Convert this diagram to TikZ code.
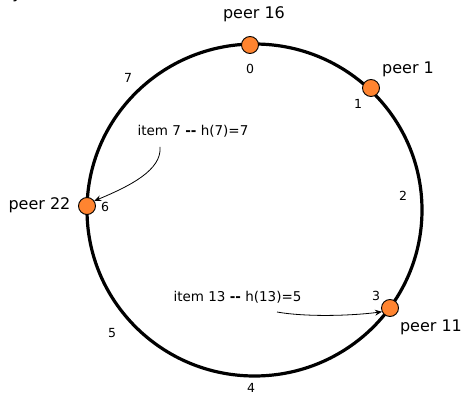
\documentclass[tikz,border=0pt]{standalone}
\usepackage{fontspec}
\setmainfont{DejaVu Sans}
\usetikzlibrary{arrows.meta}
\definecolor{peerorange}{RGB}{255,132,48}
\tikzset{
  peer/.style={circle, draw=black, line width=0.9pt, fill=peerorange, minimum size=17pt, inner sep=0pt},
  peerlabel/.style={font=\fontsize{16}{18}\selectfont, inner sep=0pt},
  poslabel/.style={font=\fontsize{12.5}{14}\selectfont, inner sep=0pt},
  itemlabel/.style={font=\fontsize{13.5}{16}\selectfont, inner sep=0pt},
  ring/.style={line width=3.2pt},
  arr/.style={line width=0.8pt, -{Stealth[length=7pt, width=6pt, inset=2.5pt]}}
}
\begin{document}
\begin{tikzpicture}[x=1pt, y=-1pt]
\useasboundingbox (0,0) rectangle (465,395);
% cut-off text fragment at the top left
\begin{scope}
\clip (0,0) rectangle (465,395);
\node[peerlabel, anchor=base] (frag) at (17,-1) {y};
\end{scope}
% ring
\draw[ring] (254.5,210) ellipse [x radius=167.5pt, y radius=166pt];
% peers
\node[peer] (p16) at (250,45) {};
\node[peer] (p1) at (371,88) {};
\node[peer] (p22) at (87,206) {};
\node[peer] (p11) at (390,308) {};
% peer labels
\node[peerlabel] (l16) at (254,14) {peer 16};
\node[peerlabel] (l1) at (408,69) {peer 1};
\node[peerlabel] (l22) at (39.5,205) {peer 22};
\node[peerlabel] (l11) at (431,327) {peer 11};
% position labels
\node[poslabel] (n0) at (250,69) {0};
\node[poslabel] (n1) at (358,104) {1};
\node[poslabel] (n2) at (403,196) {2};
\node[poslabel] (n3) at (376,296) {3};
\node[poslabel] (n4) at (251,388) {4};
\node[poslabel] (n5) at (112,333) {5};
\node[poslabel] (n6) at (105,207) {6};
\node[poslabel] (n7) at (128,78) {7};
% items
\node[itemlabel] (i7) at (193,131) {item 7 \textbf{-{}-} h(7)=7};
\node[itemlabel] (i13) at (237.5,297) {item 13 \textbf{-{}-} h(13)=5};
\coordinate (a7) at (160,147);
\coordinate (a13) at (277,312);
\draw[arr] (a7) .. controls (162,170) and (130,186) .. (p22.35);
\draw[arr] (a13) .. controls (305,317) and (350,316) .. (p11.205);
\end{tikzpicture}
\end{document}
